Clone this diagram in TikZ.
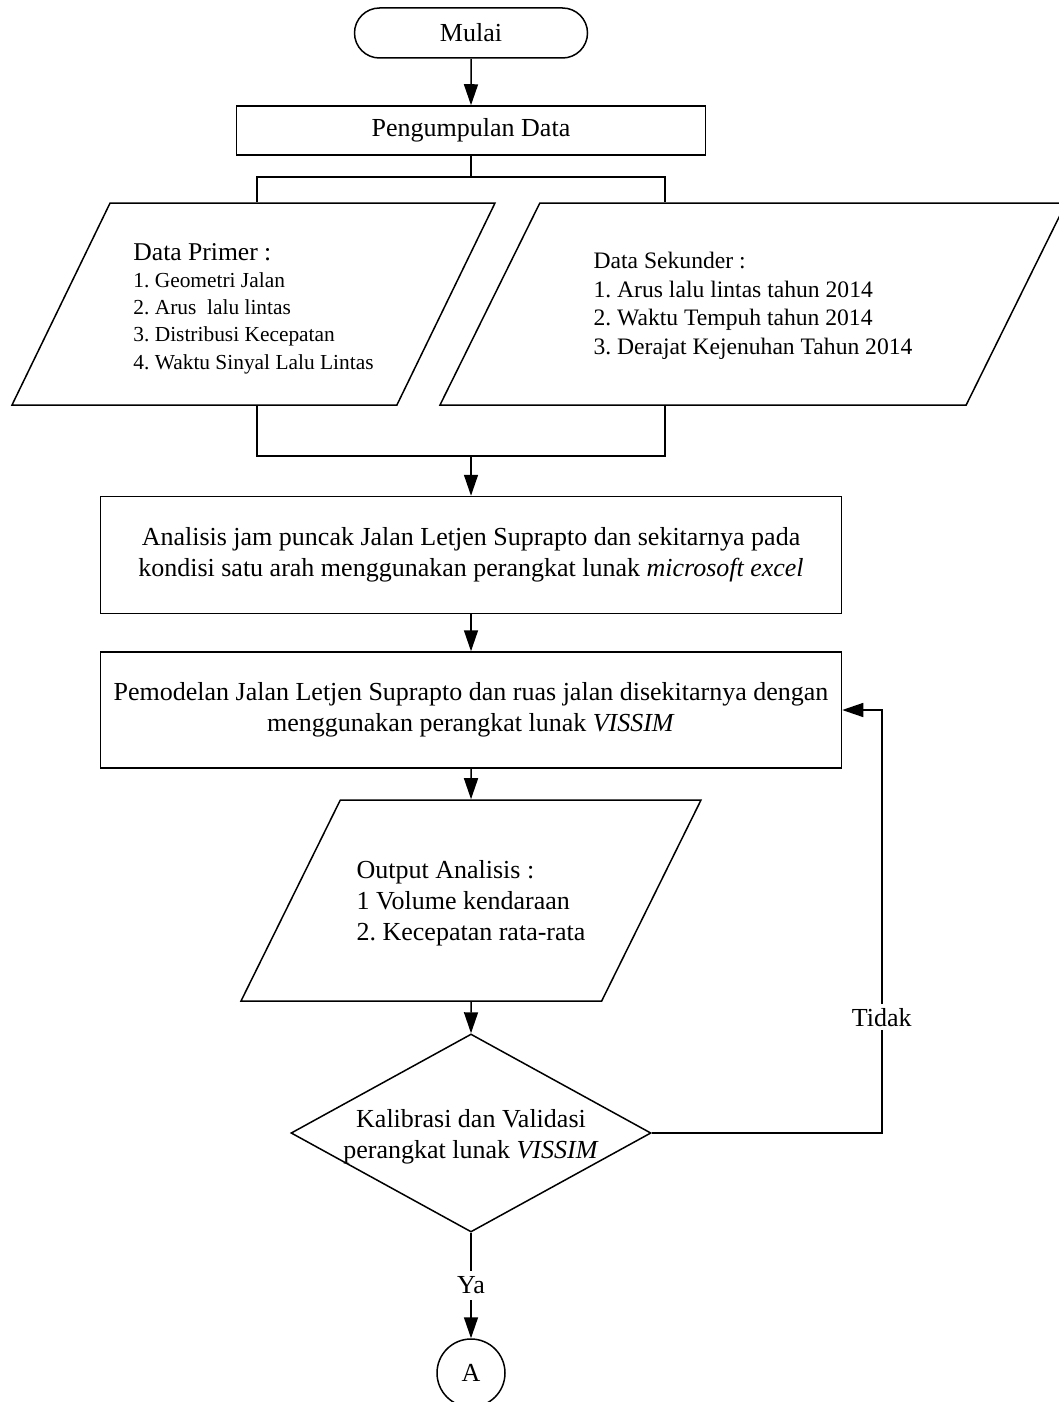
\documentclass[tikz,border=0pt]{standalone}
\usepackage{fontspec}
\setmainfont{Liberation Serif}
\frenchspacing
\usetikzlibrary{arrows.meta,shapes.geometric,shapes.misc}
\newcommand{\mainsize}{\fontsize{13}{15.4}\selectfont}
\tikzset{
  termbox/.style  = {rounded rectangle, draw, line width=0.75pt, inner sep=0pt,
                     minimum width=116.5pt, minimum height=25pt, font=\mainsize},
  procbox/.style  = {rectangle, draw, line width=0.75pt, inner sep=0pt,
                     align=center, font=\mainsize},
  iobox/.style    = {trapezium, trapezium left angle=63.7, trapezium right angle=116.3,
                     trapezium stretches body=true, draw, line width=0.75pt,
                     inner sep=0pt, align=left},
  decbox/.style   = {diamond, draw, line width=0.75pt, inner sep=0pt,
                     minimum width=180pt, minimum height=99pt},
  conbox/.style   = {circle, draw, line width=0.75pt, inner sep=0pt,
                     minimum size=34pt, font=\mainsize},
  link/.style     = {-{Triangle[length=10.5pt, width=7pt]}, line width=0.75pt},
  wire/.style     = {line width=0.75pt},
  lbl/.style      = {fill=white, inner sep=2pt, font=\mainsize},
}
\begin{document}
\begin{tikzpicture}[x=0.5pt, y=-0.5pt]
  \useasboundingbox (0,0) rectangle (1059,1402);

  \node[termbox] (mulai) at (471,33) {Mulai};
  \node[procbox, minimum width=234.5pt, minimum height=24.5pt] (kumpul) at (471,130.5)
    {Pengumpulan Data};
  \node[iobox, trapezium left angle=64.1, trapezium right angle=115.9,
        minimum width=241.5pt, text height=83pt, text depth=18pt,
        font=\fontsize{10.7}{13.6}\selectfont] (primer) at (253.5,304)
    {{\fontsize{12.8}{14}\selectfont Data Primer :}\\
     1. Geometri Jalan\\2. Arus\ \ lalu lintas\\3. Distribusi Kecepatan\\
     4. Waktu Sinyal Lalu Lintas};
  \node[iobox, minimum width=313pt, text height=75.5pt, text depth=25.5pt,
        font=\fontsize{11.8}{14.2}\selectfont] (sekunder) at (753,304)
    {Data Sekunder :\\1. Arus lalu lintas tahun 2014\\2. Waktu Tempuh tahun 2014\\
     3. Derajat Kejenuhan Tahun 2014};
  \node[procbox, minimum width=370.5pt, minimum height=58.5pt] (analisis) at (471,555)
    {Analisis jam puncak Jalan Letjen Suprapto dan sekitarnya pada\\
     kondisi satu arah menggunakan perangkat lunak \textit{microsoft excel}};
  \node[procbox, minimum width=370.5pt, minimum height=58pt] (model) at (471,710)
    {Pemodelan Jalan Letjen Suprapto dan ruas jalan disekitarnya dengan\\
     menggunakan perangkat lunak \textit{VISSIM}};
  \node[iobox, minimum width=230pt, text height=70pt, text depth=30.5pt, font=\mainsize]
    (output) at (471,900.5)
    {Output Analisis :\\1 Volume kendaraan\\2. Kecepatan rata-rata};
  \node[decbox] (kalib) at (471,1133) {};
  \node[align=center, inner sep=0pt, font=\fontsize{13}{15.5}\selectfont] (kalibtxt)
    at ([yshift=-2pt]kalib) {Kalibrasi dan Validasi\\perangkat lunak \textit{VISSIM}};
  \node[conbox] (konA) at (471,1373) {A};

  % cabang data primer / sekunder
  \coordinate (cabL) at (257,177);
  \coordinate (cabR) at (665,177);
  \coordinate (gabL) at (257,456);
  \coordinate (gabR) at (665,456);

  \draw[link] (mulai) -- (kumpul);
  \draw[wire] (kumpul) -- (kumpul |- cabL);
  \draw[wire] (primer.north -| cabL) -- (cabL) -- (cabR) -- (sekunder.north -| cabR);
  \draw[wire] (primer.south -| gabL) -- (gabL) -- (gabR) -- (sekunder.south -| gabR);
  \draw[link] (gabL -| analisis) -- (analisis);
  \draw[link] (analisis) -- (model);
  \draw[link] (model) -- (output);
  \draw[link] (output) -- (kalib);
  \draw[link] (kalib.east) -- ++(230,0) |- node[lbl, pos=0.137] {Tidak} (model.east);
  \draw[link] (kalib) -- node[lbl, inner sep=3pt] {Ya} (konA);
\end{tikzpicture}
\end{document}
